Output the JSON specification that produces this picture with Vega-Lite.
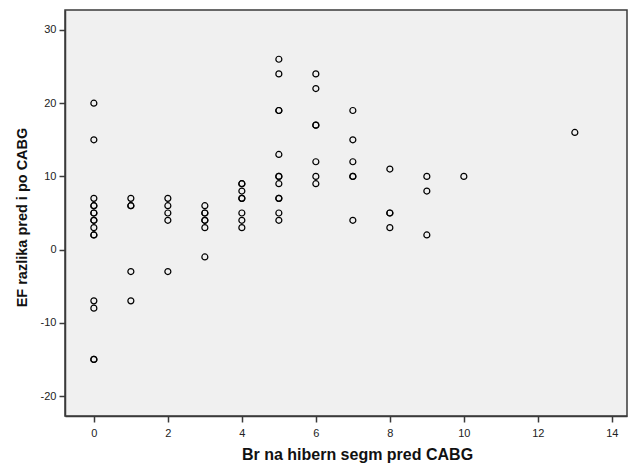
{
  "$schema": "https://vega.github.io/schema/vega-lite/v6.json",
  "width": 562,
  "height": 406,
  "autosize": {"type": "none"},
  "padding": {"left": 65, "top": 10, "right": 2, "bottom": 48},
  "background": "white",
  "config": {
    "view": {"fill": "#f0f0f0", "stroke": "#3a3a3a", "strokeWidth": 1.5},
    "font": "Liberation Sans"
  },
  "data": {
    "values": [
      {"x": 0, "y": 20}, {"x": 0, "y": 15}, {"x": 0, "y": 7}, {"x": 0, "y": 6}, {"x": 0, "y": 6},
      {"x": 0, "y": 5}, {"x": 0, "y": 5}, {"x": 0, "y": 4}, {"x": 0, "y": 4}, {"x": 0, "y": 3},
      {"x": 0, "y": 2}, {"x": 0, "y": 2}, {"x": 0, "y": -7}, {"x": 0, "y": -8}, {"x": 0, "y": -15}, {"x": 0, "y": -15},
      {"x": 1, "y": 7}, {"x": 1, "y": 6}, {"x": 1, "y": 6}, {"x": 1, "y": -3}, {"x": 1, "y": -7},
      {"x": 2, "y": 7}, {"x": 2, "y": 6}, {"x": 2, "y": 5}, {"x": 2, "y": 4}, {"x": 2, "y": -3},
      {"x": 3, "y": 6}, {"x": 3, "y": 5}, {"x": 3, "y": 5}, {"x": 3, "y": 4}, {"x": 3, "y": 4}, {"x": 3, "y": 3}, {"x": 3, "y": -1},
      {"x": 4, "y": 9}, {"x": 4, "y": 9}, {"x": 4, "y": 8}, {"x": 4, "y": 7}, {"x": 4, "y": 7}, {"x": 4, "y": 5}, {"x": 4, "y": 4}, {"x": 4, "y": 3},
      {"x": 5, "y": 26}, {"x": 5, "y": 24}, {"x": 5, "y": 19}, {"x": 5, "y": 19}, {"x": 5, "y": 13}, {"x": 5, "y": 10}, {"x": 5, "y": 10},
      {"x": 5, "y": 9}, {"x": 5, "y": 7}, {"x": 5, "y": 7}, {"x": 5, "y": 5}, {"x": 5, "y": 4},
      {"x": 6, "y": 24}, {"x": 6, "y": 22}, {"x": 6, "y": 17}, {"x": 6, "y": 17}, {"x": 6, "y": 12}, {"x": 6, "y": 10}, {"x": 6, "y": 9},
      {"x": 7, "y": 19}, {"x": 7, "y": 15}, {"x": 7, "y": 12}, {"x": 7, "y": 10}, {"x": 7, "y": 10}, {"x": 7, "y": 4},
      {"x": 8, "y": 11}, {"x": 8, "y": 5}, {"x": 8, "y": 5}, {"x": 8, "y": 3},
      {"x": 9, "y": 10}, {"x": 9, "y": 8}, {"x": 9, "y": 2},
      {"x": 10, "y": 10},
      {"x": 13, "y": 16}
    ]
  },
  "mark": {"type": "point", "shape": "circle", "filled": false, "stroke": "black", "strokeWidth": 1.2, "size": 36, "opacity": 1},
  "encoding": {
    "x": {
      "field": "x", "type": "quantitative",
      "scale": {"domain": [-0.78, 14.41], "nice": false, "zero": false},
      "axis": {
        "title": "Br na hibern segm pred CABG",
        "values": [0, 2, 4, 6, 8, 10, 12, 14],
        "grid": false,
        "domainColor": "#3a3a3a", "domainWidth": 1.5,
        "tickColor": "#3a3a3a", "tickWidth": 1.5, "tickSize": 6,
        "labelFont": "Liberation Sans", "labelFontSize": 11, "labelColor": "#222", "labelPadding": 5,
        "titleFont": "Liberation Sans", "titleFontSize": 16, "titleFontWeight": "bold", "titleColor": "#111", "titlePadding": 8,
        "titleX": 292
      }
    },
    "y": {
      "field": "y", "type": "quantitative",
      "scale": {"domain": [-22.73, 32.73], "nice": false, "zero": false},
      "axis": {
        "title": "EF razlika pred i po CABG",
        "values": [-20, -10, 0, 10, 20, 30],
        "labelExpr": "datum.value + ''",
        "grid": false,
        "domainColor": "#3a3a3a", "domainWidth": 1.5,
        "tickColor": "#3a3a3a", "tickWidth": 1.5, "tickSize": 6,
        "labelFont": "Liberation Sans", "labelFontSize": 11, "labelColor": "#222", "labelPadding": 3,
        "titleFont": "Liberation Sans", "titleFontSize": 14.5, "titleFontWeight": "bold", "titleColor": "#111", "titlePadding": 11,
        "titleY": 207
      }
    }
  }
}
